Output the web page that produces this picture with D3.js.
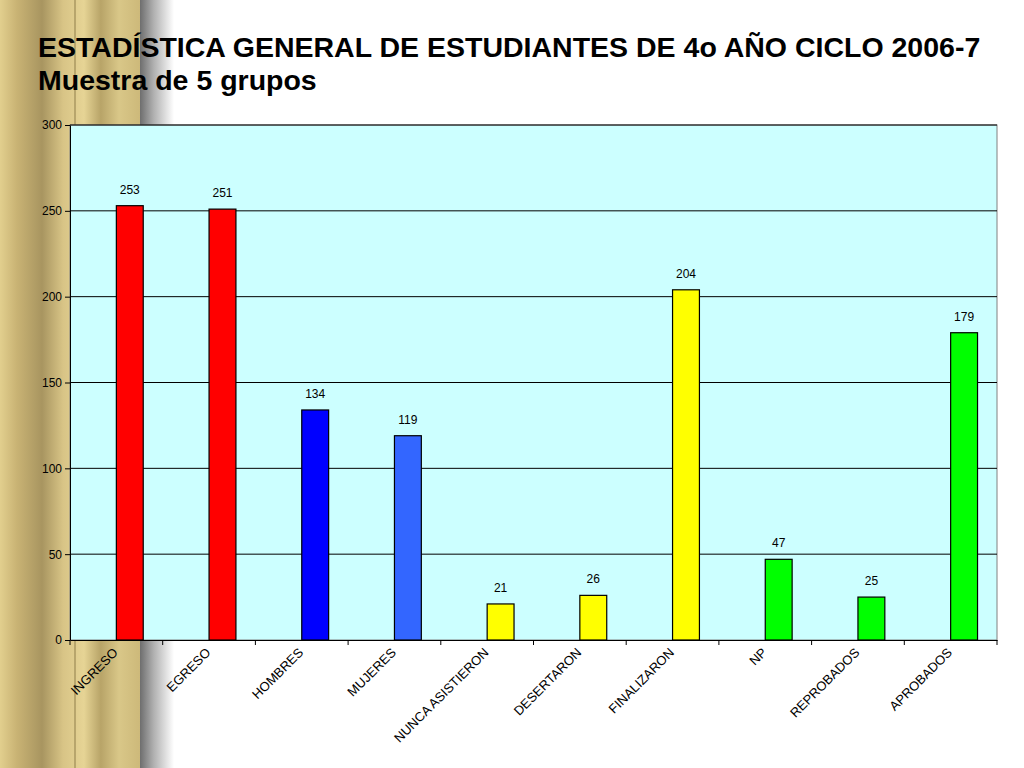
<!DOCTYPE html>
<html><head><meta charset="utf-8">
<script src="https://cdn.jsdelivr.net/npm/d3@7"></script>
<style>body{margin:0;background:#fff}svg{display:block}</style>
</head><body>
<script>
const categories=["INGRESO","EGRESO","HOMBRES","MUJERES","NUNCA ASISTIERON","DESERTARON","FINALIZARON","NP","REPROBADOS","APROBADOS"];
const values=[253,251,134,119,21,26,204,47,25,179];
const colors=["#ff0000","#ff0000","#0000ff","#3366ff","#ffff00","#ffff00","#ffff00","#00ff00","#00ff00","#00ff00"];
const yTicks=[0,50,100,150,200,250,300];
const titleLines=["ESTADÍSTICA GENERAL DE ESTUDIANTES DE 4o AÑO CICLO 2006-7","Muestra de 5 grupos"];

const W=1024,H=768;
const svg=d3.select("body").append("svg").attr("width",W).attr("height",H);
const defs=svg.append("defs");
const g1=defs.append("linearGradient").attr("id","gold");
[[0,"#e2cf8e"],[0.12,"#c9b374"],[0.3,"#a89560"],[0.45,"#d8c486"],[0.6,"#e6d495"],[0.72,"#b8a468"],[0.85,"#d9c788"],[1,"#cdb97a"]]
 .forEach(([o,c])=>g1.append("stop").attr("offset",o).attr("stop-color",c));
const g2=defs.append("linearGradient").attr("id","shade");
[[0,"#6e6e6e",1],[0.4,"#b0b0b0",1],[1,"#ffffff",1]].forEach(([o,c,a])=>g2.append("stop").attr("offset",o).attr("stop-color",c).attr("stop-opacity",a));
svg.append("rect").attr("x",0).attr("y",0).attr("width",140).attr("height",H).attr("fill","url(#gold)");
svg.append("rect").attr("x",74).attr("y",0).attr("width",2).attr("height",H).attr("fill","#8f7d4a").attr("opacity",0.5);
svg.append("rect").attr("x",140).attr("y",0).attr("width",34).attr("height",H).attr("fill","url(#shade)");

const m={l:70,r:997,t:125,b:640};
const x=d3.scaleBand().domain(categories).range([m.l,m.r]);
const y=d3.scaleLinear().domain([0,300]).range([m.b,m.t]);
svg.append("rect").attr("x",m.l).attr("y",m.t).attr("width",m.r-m.l).attr("height",m.b-m.t)
 .attr("fill","#ccffff").attr("stroke","#808080");
svg.append("g").selectAll("line").data(yTicks.slice(1)).join("line")
 .attr("x1",m.l).attr("x2",m.r).attr("y1",d=>y(d)).attr("y2",d=>y(d)).attr("stroke","#000");
const ya=svg.append("g").attr("transform",`translate(${m.l},0)`)
 .call(d3.axisLeft(y).tickValues(yTicks).tickSize(5).tickSizeOuter(0));
ya.select(".domain").attr("stroke","#000");
ya.selectAll("text").attr("font-family","Arial, Liberation Sans").attr("font-size",12).attr("fill","#000");

const bw=x.bandwidth()*0.29;
svg.append("g").selectAll("rect").data(values).join("rect")
 .attr("x",(d,i)=>x(categories[i])+x.bandwidth()/2).attr("width",bw)
 .attr("y",d=>y(d)).attr("height",d=>m.b-y(d))
 .attr("fill",(d,i)=>colors[i]).attr("stroke","#000").attr("stroke-width",1.2);
svg.append("g").selectAll("text").data(values).join("text")
 .attr("x",(d,i)=>x(categories[i])+x.bandwidth()/2+bw/2).attr("y",d=>y(d)-12)
 .attr("text-anchor","middle").attr("font-family","Arial, Liberation Sans").attr("font-size",12).text(d=>d);

const xa=svg.append("g").attr("transform",`translate(0,${m.b})`)
 .call(d3.axisBottom(x).tickSize(0));
xa.select(".domain").attr("stroke","#000");
xa.selectAll("text").attr("font-family","Arial, Liberation Sans").attr("font-size",13).attr("fill","#000")
 .attr("text-anchor","end").attr("transform","translate(-3,8) rotate(-45)").attr("dy","0.35em");
svg.append("g").selectAll("line").data(d3.range(categories.length+1)).join("line")
 .attr("x1",i=>m.l+i*x.step()).attr("x2",i=>m.l+i*x.step()).attr("y1",m.b).attr("y2",m.b+5).attr("stroke","#000");

svg.append("g").selectAll("text").data(titleLines).join("text")
 .attr("x",38).attr("y",(d,i)=>57+i*33).attr("font-family","Arial, Liberation Sans")
 .attr("font-weight","bold").attr("font-size",28.5).text(d=>d);
</script>
</body></html>
